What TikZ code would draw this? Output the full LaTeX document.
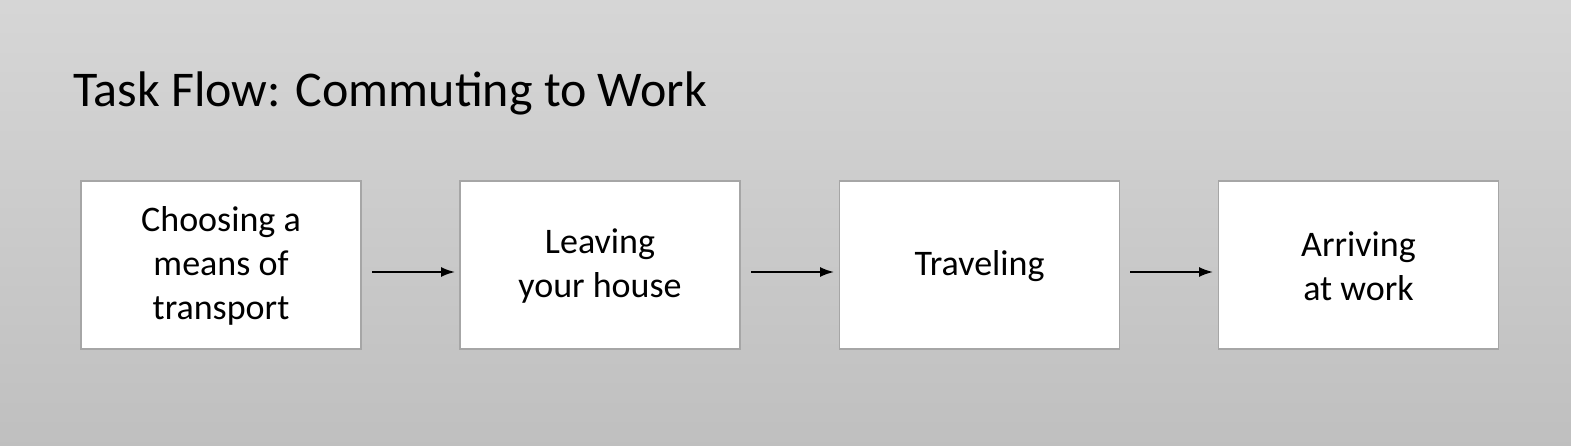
\documentclass[tikz,border=0pt]{standalone}
\usepackage{fontspec}
\setmainfont{Carlito}
\usetikzlibrary{arrows.meta}
\begin{document}
\begin{tikzpicture}[x=1pt,y=-1pt,
  stepbox/.style={draw=black!35,line width=1.2pt,fill=white,minimum width=280pt,minimum height=168pt,inner sep=0pt},
  steptext/.style={align=center,font=\fontsize{36}{44}\selectfont,inner sep=0pt},
  arr/.style={-{Latex[length=14pt,width=10pt]},line width=1.8pt}]
\shade[top color=black!16,bottom color=black!25] (0,0) rectangle (1571,446);
\useasboundingbox (0,0) rectangle (1571,446);
\node[anchor=base west,font=\fontsize{50}{56}\selectfont,inner sep=0pt] (title) at (73,107) {Task Flow: Commuting to Work};
\node[stepbox] (a) at (221,265) {};
\node[stepbox] (b) at (600,265) {};
\node[stepbox] (c) at (979.5,265) {};
\node[stepbox] (d) at (1358.5,265) {};
\node[steptext] (at) at (221,266) {Choosing a\\means of\\transport};
\node[steptext] (bt) at (600,266) {Leaving\\your house};
\node[steptext] (ct) at (979.5,266) {Traveling};
\node[steptext] (dt) at (1358.5,266) {Arriving\\at work};
\coordinate (a1) at (372,272); \coordinate (a2) at (455,272);
\coordinate (b1) at (751,272); \coordinate (b2) at (834,272);
\coordinate (c1) at (1130,272); \coordinate (c2) at (1213,272);
\draw[arr] (a1) -- (a2);
\draw[arr] (b1) -- (b2);
\draw[arr] (c1) -- (c2);
\end{tikzpicture}
\end{document}
